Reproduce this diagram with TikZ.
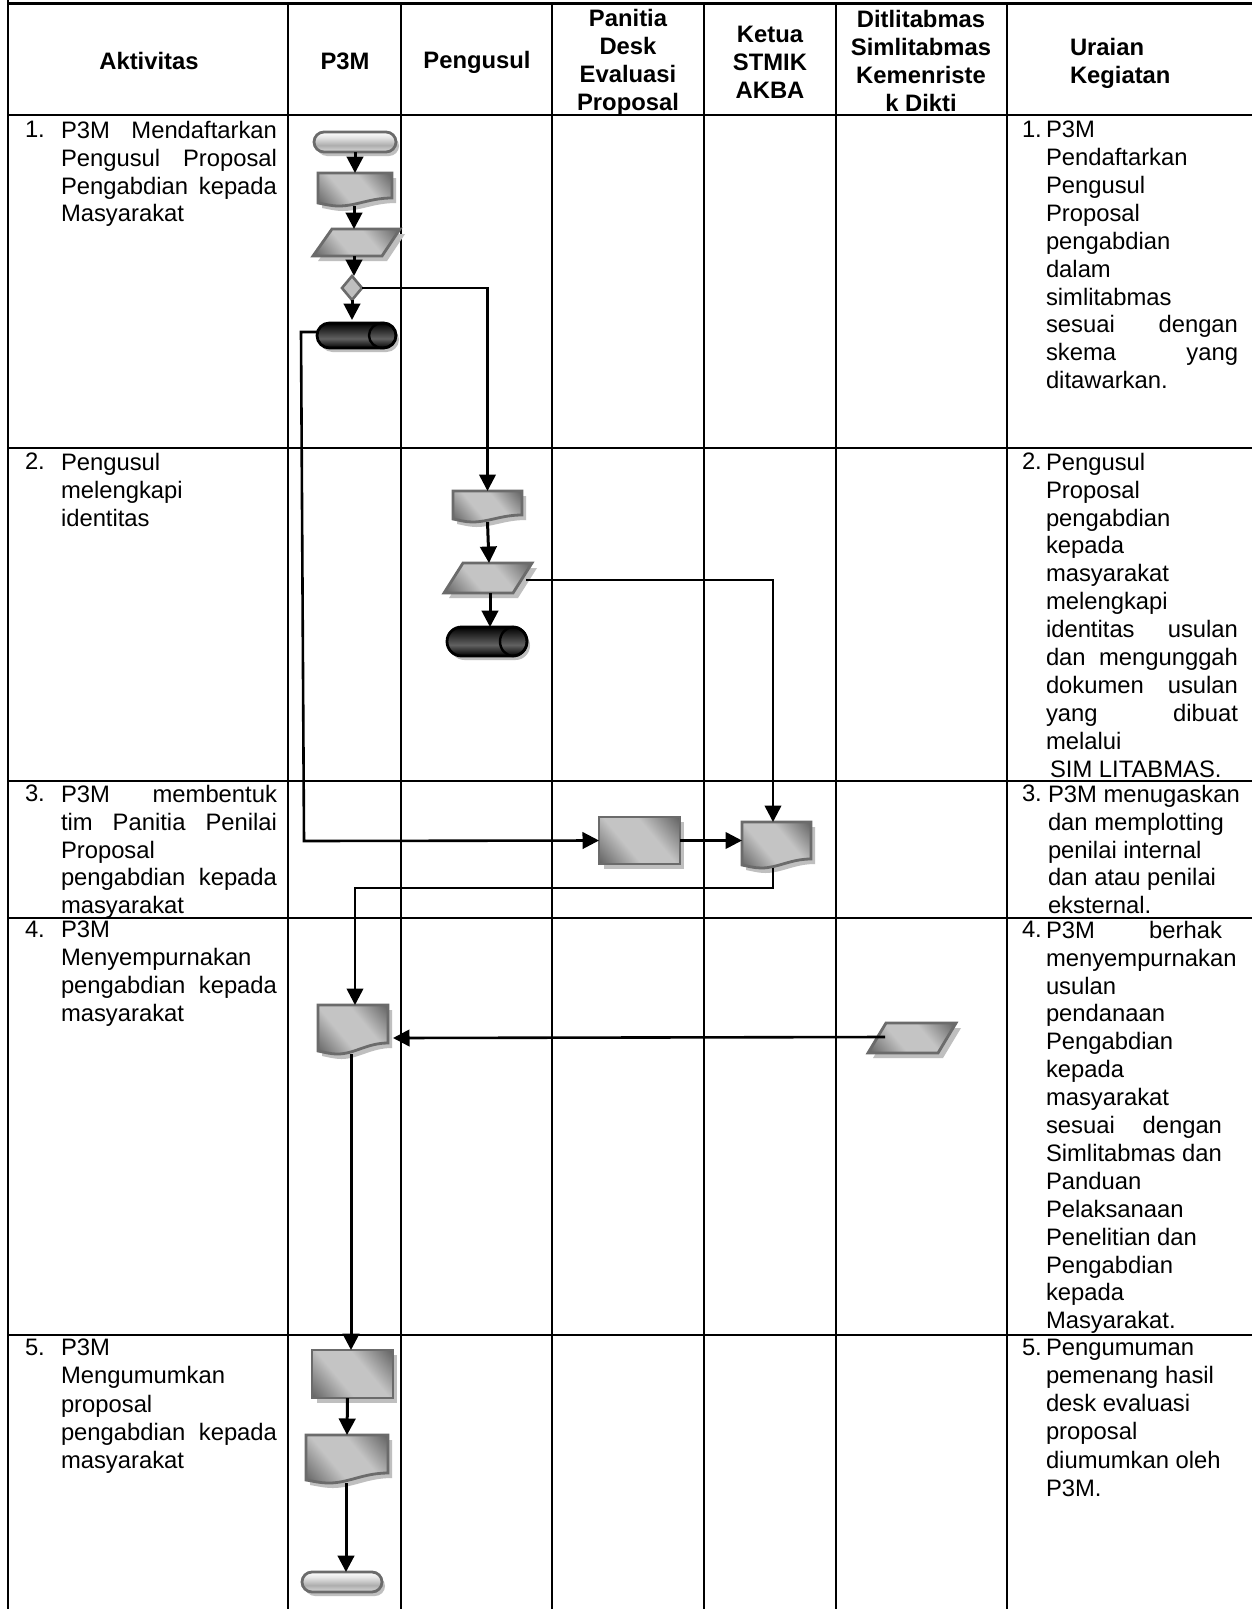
\documentclass[tikz,border=0pt]{standalone}
\usepackage{fontspec}
\setmainfont{Liberation Sans}
\usetikzlibrary{arrows.meta,calc}
\definecolor{edgegray}{gray}{0.42}
\definecolor{shadowgray}{gray}{0.75}
\pgfdeclareverticalshading{metalshade}{100bp}{color(0bp)=(black!72);color(16bp)=(black!60);color(40bp)=(black!23);color(60bp)=(black!23);color(84bp)=(black!60);color(100bp)=(black!72)}
\pgfdeclareverticalshading{pillshade}{100bp}{color(0bp)=(black!8);color(25bp)=(black!15);color(42bp)=(black!32);color(62bp)=(black!10);color(75bp)=(white);color(100bp)=(white)}
\pgfdeclareverticalshading{barrelshade}{100bp}{color(0bp)=(black);color(25bp)=(black);color(44bp)=(black!62);color(75bp)=(black);color(100bp)=(black)}
\newcommand{\jl}[2]{\makebox[#1pt][s]{#2}}
\tikzset{
  x=1pt,y=-1pt,
  grid/.style={line width=2.9pt,black},
  conn/.style={line width=2.6pt,black,line join=miter},
  arr/.style={conn,-{Triangle[length=16.5pt,width=16.5pt]}},
  thick arr/.style={arr,line width=3pt},
  anchorbox/.style={inner sep=0pt,outer sep=0pt,draw=none,fill=none},
  shapeline/.style={draw=edgegray,line width=2.8pt,line join=miter},
  metal/.style={shapeline,shading=metalshade,shading angle=-50},
  pill/.style={draw=edgegray,line width=2.8pt,shading=pillshade},
  barrel/.style={draw=black,line width=2.8pt,shading=barrelshade},
  hdr/.style={inner sep=0pt,outer sep=0pt,font=\bfseries\fontsize{23.8}{27.9}\selectfont,align=center,anchor=center},
  hdrl/.style={inner sep=0pt,outer sep=0pt,font=\bfseries\fontsize{23.8}{27.9}\selectfont,align=left,anchor=north west},
  body/.style={inner sep=0pt,outer sep=0pt,font=\fontsize{23.8}{#1}\selectfont,align=left,anchor=north west},
  body/.default=27.9,
}
\newcommand{\boxnode}[5]{%
  \pgfmathsetmacro{\bw}{#4-#2}\pgfmathsetmacro{\bh}{#5-#3}%
  \pgfmathsetmacro{\bcx}{(#4+#2)/2}\pgfmathsetmacro{\bcy}{(#5+#3)/2}%
  \node[anchorbox,minimum width=\bw pt,minimum height=\bh pt] (#1) at (\bcx,\bcy) {};}
\newcommand{\rectshape}[5]{\boxnode{#1}{#2}{#3}{#4}{#5}%
  \fill[shadowgray] (#2+5,#3+5) rectangle (#4+4,#5+5);
  \path[metal] (#2,#3) rectangle (#4,#5);}
\newcommand{\docpath}[5]{(#1,#2) -- (#3,#2) -- (#3,#5)
  .. controls ({#3-0.3*(#3-#1)},#5) and ({#1+0.52*(#3-#1)},#4+3) .. ({#1+0.28*(#3-#1)},#4+3)
  .. controls ({#1+0.17*(#3-#1)},#4+3) and ({#1+0.08*(#3-#1)},#4+1) .. (#1,#4) -- cycle}
\newcommand{\docshape}[6]{\boxnode{#1}{#2}{#3}{#4}{#5+3}%
  \fill[shadowgray,shift={(4,5)}] \docpath{#2}{#3}{#4}{#5}{#6};
  \path[metal] \docpath{#2}{#3}{#4}{#5}{#6};}
\newcommand{\parashape}[7]{\boxnode{#1}{#4}{#6}{#3}{#7}%
  \fill[shadowgray,shift={(5,5)}] (#2,#6)--(#3,#6)--(#5,#7)--(#4,#7)--cycle;
  \path[metal] (#2,#6)--(#3,#6)--(#5,#7)--(#4,#7)--cycle;}
\newcommand{\pillshape}[5]{\boxnode{#1}{#2}{#3}{#4}{#5}%
  \pgfmathsetmacro{\br}{(#5-#3)/2}%
  \fill[shadowgray,rounded corners=\br pt] (#2+3,#3+4) rectangle (#4+3,#5+4);
  \path[pill,rounded corners=\br pt] (#2,#3) rectangle (#4,#5);}
\newcommand{\barrelshape}[5]{\boxnode{#1}{#2}{#3}{#4}{#5}%
  \pgfmathsetmacro{\br}{(#5-#3)/2}\pgfmathsetmacro{\ecx}{#4-13.5}\pgfmathsetmacro{\ecy}{(#5+#3)/2}%
  \fill[shadowgray,rounded corners=\br pt] (#2+3,#3+4) rectangle (#4+3,#5+4);
  \path[barrel,rounded corners=\br pt] (#2,#3) rectangle (#4,#5);
  \draw[black,line width=2.4pt] (\ecx,\ecy) circle[x radius=13.5pt,y radius=\br pt];}
\newcommand{\diashape}[5]{\boxnode{#1}{#2}{#3}{#4}{#5}%
  \path[draw=edgegray,line width=2.6pt,fill=black!25] (#2,{(#3+#5)/2})--({(#2+#4)/2},#3)--(#4,{(#3+#5)/2})--({(#2+#4)/2},#5)--cycle;}
\begin{document}
\begin{tikzpicture}
\useasboundingbox (0,0) rectangle (1252,1609);
\fill[white] (0,0) rectangle (1252,1609);
% ---- grid
\foreach \yy in {3.5,115,448,781,918,1335} \draw[grid] (8,\yy) -- (1252,\yy);
\foreach \xx in {288,401,552,704,836,1007} \draw[grid] (\xx,3.5) -- (\xx,1609);
\draw[grid] (8,0) -- (8,1609);
% ---- header
\node[hdr] (hA) at (149,61) {Aktivitas};
\node[hdr] (hB) at (345,61) {P3M};
\node[hdr] (hC) at (477,62) {Pengusul};
\node[hdr] (hD) at (628,62) {Panitia\\Desk\\Evaluasi\\Proposal};
\node[hdr] (hE) at (770,62) {Ketua\\STMIK\\AKBA};
\node[hdr] (hF) at (921,61) {Ditlitabmas\\Simlitabmas\\Kemenriste\\k Dikti};
\node[hdrl] (hG) at (1070,38) {Uraian\\Kegiatan};
% ---- left column
\node[body] (n1) at (25,121) {1.};
\node[body] (a1) at (61,121) {\jl{216}{P3M Mendaftarkan}\\\jl{216}{Pengusul Proposal}\\\jl{216}{Pengabdian kepada}\\Masyarakat};
\node[body] (n2) at (25,453) {2.};
\node[body] (a2) at (61,453) {Pengusul\\melengkapi\\identitas};
\node[body] (n3) at (25,785) {3.};
\node[body] (a3) at (61,785) {\jl{216}{P3M membentuk}\\\jl{216}{tim Panitia Penilai}\\Proposal\\\jl{216}{pengabdian kepada}\\masyarakat};
\node[body] (n4) at (25,921) {4.};
\node[body] (a4) at (61,921) {P3M\\Menyempurnakan\\\jl{216}{pengabdian kepada}\\masyarakat};
\node[body] (n5) at (25,1339) {5.};
\node[body=28.2] (a5) at (61,1339) {P3M\\Mengumumkan\\proposal\\\jl{216}{pengabdian kepada}\\masyarakat};
% ---- right column
\node[body] (u1) at (1022,121) {1.};
\node[body] (b1) at (1046,121) {P3M\\Pendaftarkan\\Pengusul\\Proposal\\pengabdian\\dalam\\simlitabmas\\\jl{192}{sesuai dengan}\\\jl{192}{skema yang}\\ditawarkan.};
\node[body] (u2) at (1022,453) {2.};
\node[body] (b2) at (1046,453) {Pengusul\\Proposal\\pengabdian\\kepada\\masyarakat\\melengkapi\\\jl{192}{identitas usulan}\\\jl{192}{dan mengunggah}\\\jl{192}{dokumen usulan}\\\jl{192}{yang dibuat}\\melalui\\\hspace*{4pt}SIM LITABMAS.};
\node[body] (u3) at (1022,785) {3.};
\node[body] (b3) at (1048,785) {P3M menugaskan\\dan memplotting\\penilai internal\\dan atau penilai\\eksternal.};
\node[body] (u4) at (1022,921) {4.};
\node[body] (b4) at (1046,921) {\jl{176}{P3M berhak}\\menyempurnakan\\usulan\\pendanaan\\Pengabdian\\kepada\\masyarakat\\\jl{176}{sesuai dengan}\\Simlitabmas dan\\Panduan\\Pelaksanaan\\Penelitian dan\\Pengabdian\\kepada\\Masyarakat.};
\node[body] (u5) at (1022,1339) {5.};
\node[body=28.2] (b5) at (1046,1339) {Pengumuman\\pemenang hasil\\desk evaluasi\\proposal\\diumumkan oleh\\P3M.};
% ---- shapes
\pillshape{term1}{314}{132}{396}{152}
\docshape{doc1}{318}{173}{392}{203}{198}
\parashape{para1}{332}{400}{313}{382}{229}{256}
\diashape{dia}{342}{276}{362}{300}
\barrelshape{cyl1}{317}{323}{396}{348}
\docshape{doc2}{453}{491}{522}{519}{515}
\parashape{para2}{463}{532}{444}{513}{563}{593}
\barrelshape{cyl2}{447}{627}{527}{656}
\docshape{doc3}{742}{822}{811}{865}{859}
\rectshape{rect1}{599}{817}{680}{864}
\docshape{doc4}{318}{1005}{388}{1051}{1043}
\parashape{para3}{886}{956}{868}{938}{1023}{1053}
\rectshape{rect5}{312}{1350}{393}{1398}
\docshape{doc5}{306}{1435}{388}{1480}{1473}
\pillshape{term5}{302}{1572}{382}{1592}
% ---- connectors
\coordinate (c1) at (301,332);
\coordinate (c2) at (304,841);
\coordinate (c4) at (355,888);
\draw[thick arr] (term1.south) -- (doc1.north);
\draw[thick arr] ([xshift=-1pt]doc1.south) -- ([xshift=-2.5pt]para1.north);
\draw[thick arr] ([xshift=-2.5pt]para1.south) -- ([xshift=2pt]dia.north);
\draw[thick arr,shorten >=3pt] (dia.south) -- ([xshift=-4.5pt]cyl1.north);
\draw[arr] (dia.east) -| (doc2.north);
\draw[thick arr] (doc2.south) -- ([xshift=1pt]para2.north);
\draw[thick arr] ([xshift=2pt]para2.south) -- ([xshift=3pt]cyl2.north);
\draw[arr] ([shift={(-6,2)}]para2.east) -| ([xshift=-3.5pt]doc3.north);
\draw[arr] ([shift={(0,-3.5)}]cyl1.west) -- (c1) -- (c2) -- (rect1.west);
\draw[arr] (rect1.east) -- (rect1.east -| doc3.west);
\draw[arr] ([xshift=-3.5pt]doc3.south) |- (c4) -- ([xshift=2pt]doc4.north);
\draw[arr] ([shift={(17,-1)}]para3.west) -- ([xshift=5pt]para3.west -| doc4.east);
\draw[thick arr] ([xshift=-2pt]doc4.south) -- ([xshift=-1.5pt]rect5.north);
\draw[thick arr] ([xshift=-5pt]rect5.south) -- ([xshift=0pt]doc5.north);
\draw[thick arr] ([xshift=-1pt]doc5.south) -- ([xshift=4pt]term5.north);
\end{tikzpicture}
\end{document}
